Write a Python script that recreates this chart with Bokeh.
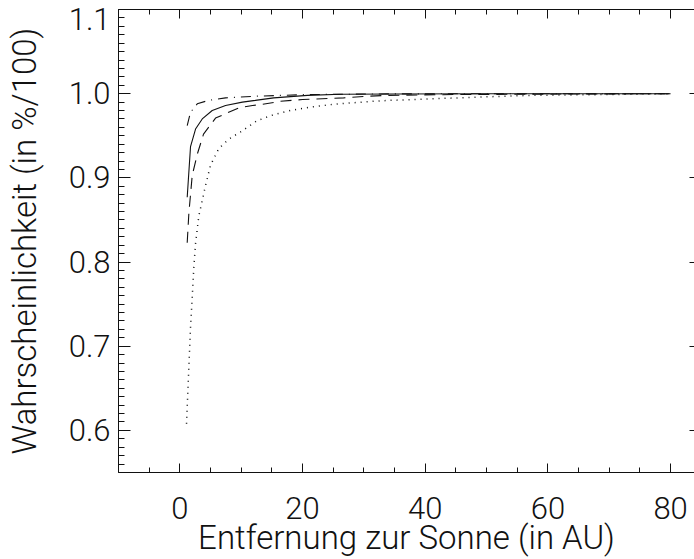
from bokeh.plotting import figure
from bokeh.models import LinearAxis, Range1d, FixedTicker, PrintfTickFormatter
from bokeh.embed import file_html
from bokeh.resources import INLINE

# Probability curves vs. heliocentric distance (AU)
x_solid = [1.2, 1.74, 2.56, 3.65, 5.28, 7.45, 10.2, 12.3, 15.3, 20.8, 26.2, 35, 50, 65, 80]
y_solid = [0.877, 0.937, 0.958, 0.970, 0.980, 0.986, 0.990, 0.992, 0.995, 0.998,
           0.9993, 0.9997, 0.9999, 1.0, 1.0]

x_dashed = [1.2, 1.47, 2.02, 2.84, 3.86, 5.82, 9.57, 11.85, 13.2, 16.4, 20.0, 23.2,
            26.7, 30.6, 33.8, 45, 60, 80]
y_dashed = [0.823, 0.858, 0.903, 0.928, 0.952, 0.971, 0.983, 0.986, 0.987, 0.991,
            0.993, 0.994, 0.995, 0.997, 0.998, 0.999, 0.9995, 1.0]

x_dotted = [1.09, 1.47, 1.74, 2.02, 2.28, 2.56, 3.10, 3.65, 4.19, 5.0, 6.36, 7.99,
            10.2, 12.6, 15.3, 18.0, 21.3, 24.6, 27.8, 31.6, 34.1, 49.0, 57.2, 70, 80]
y_dotted = [0.608, 0.675, 0.722, 0.758, 0.794, 0.822, 0.855, 0.873, 0.891, 0.915,
            0.935, 0.946, 0.956, 0.968, 0.975, 0.980, 0.984, 0.987, 0.989, 0.991,
            0.992, 0.996, 0.998, 0.999, 1.0]

x_dashdot = [1.2, 1.74, 2.84, 4.68, 7.45, 12.3, 20.8, 35, 80]
y_dashdot = [0.962, 0.978, 0.988, 0.992, 0.995, 0.997, 0.999, 0.9998, 1.0]

x_major = [0, 20, 40, 60, 80]
x_minor = [-10, -5, 5, 10, 15, 25, 30, 35, 45, 50, 55, 65, 70, 75, 85]
y_major = [0.6, 0.7, 0.8, 0.9, 1.0, 1.1]
y_minor = [round(0.55 + 0.01 * i, 2) for i in range(56)]

FONT = "Roboto Light"
INK = "#111111"
TICK_PX = "31px"
TITLE_PX = "33px"

p = figure(width=694, height=559, output_backend="svg", toolbar_location=None,
           x_range=Range1d(-10, 83.9), y_range=Range1d(0.55, 1.1),
           x_axis_location=None, y_axis_location=None,
           min_border_left=118, min_border_right=0, min_border_top=9,
           min_border_bottom=87)
p.outline_line_color = None
p.xgrid.visible = False
p.ygrid.visible = False
p.background_fill_color = "white"
p.border_fill_color = "white"


def style_axis(ax, major_in, minor_in):
    ax.axis_line_color = INK
    ax.axis_line_width = 1
    ax.major_tick_line_color = INK
    ax.minor_tick_line_color = INK
    ax.major_tick_in = major_in
    ax.major_tick_out = 0
    ax.minor_tick_in = minor_in
    ax.minor_tick_out = 0
    ax.major_label_text_font = FONT
    ax.axis_label_text_font = FONT
    ax.major_label_text_color = INK
    ax.axis_label_text_color = INK
    ax.axis_label_text_font_style = "normal"


xb = LinearAxis(ticker=FixedTicker(ticks=x_major, minor_ticks=x_minor),
                axis_label="Entfernung zur Sonne (in AU)")
style_axis(xb, 9, 5)
xb.major_label_text_font_size = TICK_PX
xb.axis_label_text_font_size = TITLE_PX
xb.major_label_standoff = 24
xb.axis_label_standoff = -4
p.add_layout(xb, "below")

xt = LinearAxis(ticker=FixedTicker(ticks=x_major, minor_ticks=x_minor))
style_axis(xt, 9, 5)
xt.major_label_text_font_size = "1px"
xt.major_label_text_color = None
xt.major_label_standoff = 0
p.add_layout(xt, "above")

# the top label is pushed a little down so it stays on the page
yl = LinearAxis(ticker=FixedTicker(ticks=y_major, minor_ticks=y_minor),
                formatter=PrintfTickFormatter(format="%.1f"),
                major_label_overrides={1.1: "\n1.1"},
                axis_label="Wahrscheinlichkeit (in %/100)")
style_axis(yl, 12, 6)
yl.major_label_text_font_size = TICK_PX
yl.major_label_text_line_height = 0.0
yl.axis_label_text_font_size = TITLE_PX
yl.major_label_standoff = 8
yl.axis_label_standoff = 22
p.add_layout(yl, "left")

yr = LinearAxis(ticker=FixedTicker(ticks=y_major, minor_ticks=[]))
style_axis(yr, 5, 0)
yr.axis_line_color = None
yr.major_label_text_font_size = "1px"
yr.major_label_text_color = None
yr.major_label_standoff = 0
p.add_layout(yr, "right")

p.line(x_solid, y_solid, line_color=INK, line_width=1.1)
p.line(x_dashed, y_dashed, line_color=INK, line_width=1.1, line_dash="11 7")
p.line(x_dotted, y_dotted, line_color=INK, line_width=1.5, line_dash="1 5")
p.line(x_dashdot, y_dashdot, line_color=INK, line_width=1.1, line_dash="10 6 1 6")

open("out.html", "w").write(file_html(p, INLINE))
